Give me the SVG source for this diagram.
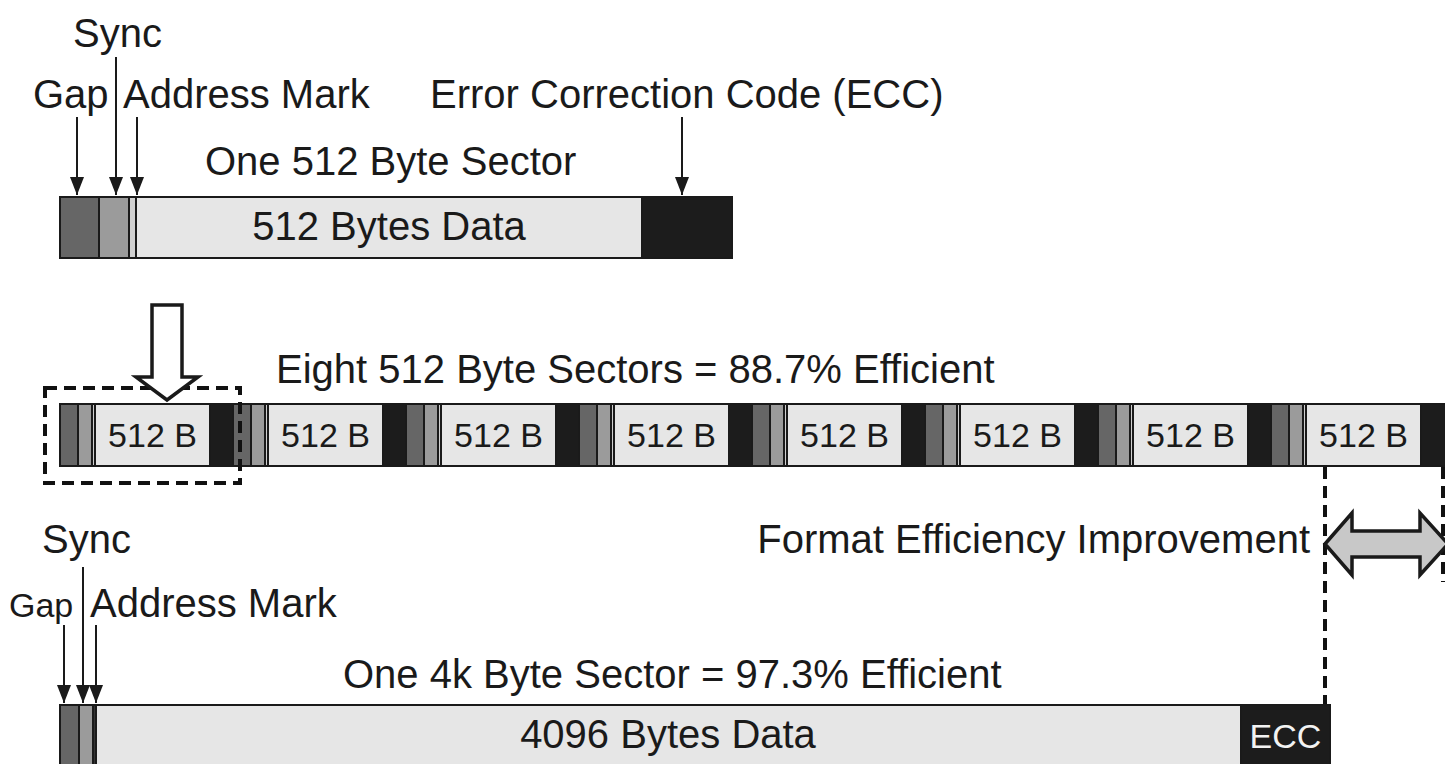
<svg xmlns="http://www.w3.org/2000/svg" width="1445" height="764" viewBox="0 0 1445 764">
<style>
text{font-family:"Liberation Sans",Arial,sans-serif;fill:#1a1a1a}
.lbl{font-size:40px}
.sm{font-size:34px}
.gap{fill:#666666;stroke:#1a1a1a;stroke-width:2}
.sync{fill:#9b9b9b;stroke:#1a1a1a;stroke-width:2}
.am{fill:#d0d0d0;stroke:#1a1a1a;stroke-width:2}
.data{fill:#e6e6e6;stroke:#1a1a1a;stroke-width:2}
.ecc{fill:#1c1c1c;stroke:#1a1a1a;stroke-width:2}
.arr{stroke:#1a1a1a;stroke-width:2;fill:none;marker-end:url(#ah)}
.dash{stroke:#111;stroke-width:4;fill:none;stroke-dasharray:12 7}
.mid{text-anchor:middle}
</style>
<defs>
<marker id="ah" markerUnits="userSpaceOnUse" markerWidth="18" markerHeight="14" refX="18" refY="7" orient="auto" viewBox="0 0 18 14">
<path d="M0,0 L18,7 L0,14 Z" fill="#1a1a1a"/>
</marker>
</defs>
<rect width="1445" height="764" fill="#ffffff"/>

<!-- Top single sector -->
<g id="top-sector">
<rect class="gap" x="60" y="197" width="39" height="61"/>
<rect class="sync" x="99" y="197" width="30" height="61"/>
<rect class="am" x="129" y="197" width="7" height="61"/>
<rect class="data" x="136" y="197" width="506" height="61"/>
<rect class="ecc" x="642" y="197" width="90" height="61"/>
<text class="lbl mid" x="389" y="240">512 Bytes Data</text>
</g>
<g id="top-labels">
<text class="lbl" x="73" y="47">Sync</text>
<text class="lbl" x="33" y="108">Gap</text>
<text class="lbl" x="123" y="108">Address Mark</text>
<text class="lbl" x="430" y="108">Error Correction Code (ECC)</text>
<text class="lbl" x="205" y="175">One 512 Byte Sector</text>
</g>

<!-- Middle row: eight sectors -->
<g id="eight-title"><text class="lbl" x="276" y="383">Eight 512 Byte Sectors = 88.7% Efficient</text></g>
<g id="sector-1">
<rect class="gap" x="60" y="404" width="18" height="62"/><rect class="sync" x="78" y="404" width="14" height="62"/><rect class="am" x="92" y="404" width="3" height="62"/><rect class="data" x="95" y="404" width="115" height="62"/><rect class="ecc" x="210" y="404" width="23" height="62"/>
<text class="sm mid" x="152.5" y="447">512 B</text>
</g>
<g id="sector-2">
<rect class="gap" x="233" y="404" width="18" height="62"/><rect class="sync" x="251" y="404" width="14" height="62"/><rect class="am" x="265" y="404" width="3" height="62"/><rect class="data" x="268" y="404" width="115" height="62"/><rect class="ecc" x="383" y="404" width="23" height="62"/>
<text class="sm mid" x="325.5" y="447">512 B</text>
</g>
<g id="sector-3">
<rect class="gap" x="406" y="404" width="18" height="62"/><rect class="sync" x="424" y="404" width="14" height="62"/><rect class="am" x="438" y="404" width="3" height="62"/><rect class="data" x="441" y="404" width="115" height="62"/><rect class="ecc" x="556" y="404" width="23" height="62"/>
<text class="sm mid" x="498.5" y="447">512 B</text>
</g>
<g id="sector-4">
<rect class="gap" x="579" y="404" width="18" height="62"/><rect class="sync" x="597" y="404" width="14" height="62"/><rect class="am" x="611" y="404" width="3" height="62"/><rect class="data" x="614" y="404" width="115" height="62"/><rect class="ecc" x="729" y="404" width="23" height="62"/>
<text class="sm mid" x="671.5" y="447">512 B</text>
</g>
<g id="sector-5">
<rect class="gap" x="752" y="404" width="18" height="62"/><rect class="sync" x="770" y="404" width="14" height="62"/><rect class="am" x="784" y="404" width="3" height="62"/><rect class="data" x="787" y="404" width="115" height="62"/><rect class="ecc" x="902" y="404" width="23" height="62"/>
<text class="sm mid" x="844.5" y="447">512 B</text>
</g>
<g id="sector-6">
<rect class="gap" x="925" y="404" width="18" height="62"/><rect class="sync" x="943" y="404" width="14" height="62"/><rect class="am" x="957" y="404" width="3" height="62"/><rect class="data" x="960" y="404" width="115" height="62"/><rect class="ecc" x="1075" y="404" width="23" height="62"/>
<text class="sm mid" x="1017.5" y="447">512 B</text>
</g>
<g id="sector-7">
<rect class="gap" x="1098" y="404" width="18" height="62"/><rect class="sync" x="1116" y="404" width="14" height="62"/><rect class="am" x="1130" y="404" width="3" height="62"/><rect class="data" x="1133" y="404" width="115" height="62"/><rect class="ecc" x="1248" y="404" width="23" height="62"/>
<text class="sm mid" x="1190.5" y="447">512 B</text>
</g>
<g id="sector-8">
<rect class="gap" x="1271" y="404" width="18" height="62"/><rect class="sync" x="1289" y="404" width="14" height="62"/><rect class="am" x="1303" y="404" width="3" height="62"/><rect class="data" x="1306" y="404" width="115" height="62"/><rect class="ecc" x="1421" y="404" width="30" height="62"/>
<text class="sm mid" x="1363.5" y="447">512 B</text>
</g>
<g id="selection-box">
<rect class="dash" x="45" y="388" width="195" height="95"/>
</g>
<g id="hollow-arrow">
<polygon points="152,305 182,305 182,377 198,377 167,400 136,377 152,377" fill="#ffffff" stroke="#1a1a1a" stroke-width="3.5" stroke-linejoin="miter"/>
</g>

<!-- Bottom: one 4k sector -->
<g id="bottom-sector">
<rect class="gap" x="60" y="705" width="19" height="70"/>
<rect class="sync" x="79" y="705" width="14" height="70"/>
<rect class="am" x="93" y="705" width="3" height="70" style="fill:#333"/>
<rect class="data" x="96" y="705" width="1145" height="70"/>
<rect class="ecc" x="1241" y="705" width="89" height="70"/>
<text class="lbl mid" x="668" y="748">4096 Bytes Data</text>
<text class="sm mid" x="1285.5" y="748" style="fill:#f2f2f2">ECC</text>
</g>
<g id="bottom-labels">
<text class="lbl" x="42" y="553">Sync</text>
<text class="sm" x="9" y="617">Gap</text>
<text class="lbl" x="90" y="617">Address Mark</text>
<text class="lbl" x="343" y="688">One 4k Byte Sector = 97.3% Efficient</text>
<text class="lbl" x="1310" y="553" style="text-anchor:end">Format Efficiency Improvement</text>
</g>
<g id="improvement">
<line class="dash" x1="1325" y1="467" x2="1325" y2="704"/>
<line class="dash" x1="1443" y1="467" x2="1443" y2="582"/>
<polygon points="1325,544 1352,513 1352,531 1420,531 1420,513 1448,544 1420,575 1420,557 1352,557 1352,575" fill="#c8c8c8" stroke="#1a1a1a" stroke-width="3.5"/>
</g>

<g id="connectors">
<line class="arr" x1="77" y1="117" x2="77" y2="195"/>
<line class="arr" x1="116" y1="57" x2="116" y2="195"/>
<line class="arr" x1="137" y1="117" x2="137" y2="195"/>
<line class="arr" x1="682" y1="117" x2="682" y2="195"/>
<line class="arr" x1="64" y1="625" x2="64" y2="703"/>
<line class="arr" x1="83" y1="567" x2="83" y2="703"/>
<line class="arr" x1="96" y1="625" x2="96" y2="703"/>
</g>
</svg>
